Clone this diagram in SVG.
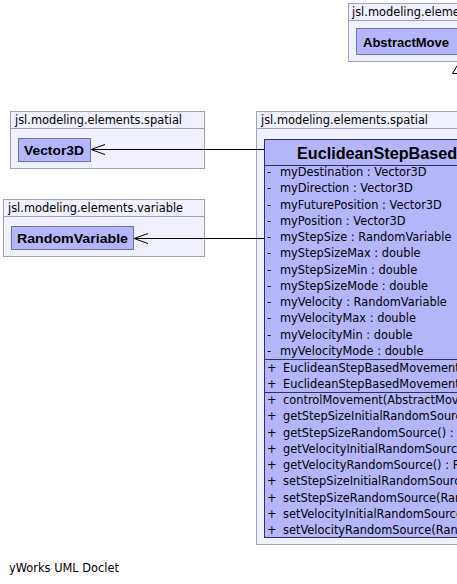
<svg xmlns="http://www.w3.org/2000/svg" width="457" height="584" viewBox="0 0 457 584">
<style>
.pkg{fill:#f0f0fe;stroke:#a0a0b8;stroke-width:1}
.pl{stroke:#a0a0b8;stroke-width:1}
.pt{font-family:"DejaVu Sans",sans-serif;font-size:11.4px;fill:#000}
.cls{fill:#b5b5fa;stroke:#7070b0;stroke-width:1}
.big{fill:#b5b5fa;stroke:#303060;stroke-width:1}
.sep{stroke:#303060;stroke-width:1}
.cn{font-family:"Liberation Sans",sans-serif;font-weight:bold;font-size:13.7px;fill:#000}
.title{font-family:"Liberation Sans",sans-serif;font-weight:bold;font-size:16.2px;fill:#000}
.m{font-family:"DejaVu Sans",sans-serif;font-size:11.4px;fill:#000}
.edge{stroke:#000;stroke-width:1;fill:none}
</style>
<defs>
<marker id="open" markerWidth="16" markerHeight="12" refX="15" refY="6" orient="auto" markerUnits="userSpaceOnUse">
<path d="M1,1 L15,6 L1,11" fill="none" stroke="#000" stroke-width="1"/>
</marker>
</defs>
<rect x="0" y="0" width="457" height="584" fill="#fff"/>

<g id="pkg-abstract">
<rect class="pkg" x="348.5" y="3.5" width="120" height="58"/>
<line class="pl" x1="348.5" y1="20.5" x2="468" y2="20.5"/>
<text class="pt" x="352" y="16">jsl.modeling.eleme</text>
<g id="AbstractMovementController">
<rect class="cls" x="356.5" y="28.5" width="120" height="26"/>
<text class="cn" x="363" y="46.5" textLength="86" lengthAdjust="spacingAndGlyphs">AbstractMove</text>
</g>
</g>

<g id="pkg-vector">
<rect class="pkg" x="10.5" y="111.5" width="194" height="57"/>
<line class="pl" x1="10.5" y1="128.5" x2="204.5" y2="128.5"/>
<text class="pt" x="15" y="124">jsl.modeling.elements.spatial</text>
<g id="Vector3D">
<rect class="cls" x="18.5" y="138.5" width="72" height="23"/>
<text class="cn" x="24" y="155" textLength="60" lengthAdjust="spacingAndGlyphs">Vector3D</text>
</g>
</g>

<g id="pkg-variable">
<rect class="pkg" x="3.5" y="199.5" width="201" height="57"/>
<line class="pl" x1="3.5" y1="216.5" x2="204.5" y2="216.5"/>
<text class="pt" x="8" y="212">jsl.modeling.elements.variable</text>
<g id="RandomVariable">
<rect class="cls" x="11.5" y="226.5" width="122" height="23"/>
<text class="cn" x="17" y="243" textLength="111" lengthAdjust="spacingAndGlyphs">RandomVariable</text>
</g>
</g>

<g id="pkg-spatial">
<rect class="pkg" x="256.5" y="111.5" width="220" height="433"/>
<line class="pl" x1="256.5" y1="128.5" x2="476" y2="128.5"/>
<text class="pt" x="261" y="124">jsl.modeling.elements.spatial</text>
<g id="EuclideanStepBasedMovementController">
<rect class="big" x="264.5" y="139.5" width="220" height="398"/>
<text class="title" x="297" y="158.5">EuclideanStepBased</text>
<line class="sep" x1="264.5" y1="165.5" x2="485" y2="165.5"/>
<text class="m"><tspan x="267" y="176">-</tspan><tspan x="280">myDestination : Vector3D</tspan></text>
<text class="m"><tspan x="267" y="192.25">-</tspan><tspan x="280">myDirection : Vector3D</tspan></text>
<text class="m"><tspan x="267" y="208.5">-</tspan><tspan x="280">myFuturePosition : Vector3D</tspan></text>
<text class="m"><tspan x="267" y="224.75">-</tspan><tspan x="280">myPosition : Vector3D</tspan></text>
<text class="m"><tspan x="267" y="241">-</tspan><tspan x="280">myStepSize : RandomVariable</tspan></text>
<text class="m"><tspan x="267" y="257.25">-</tspan><tspan x="280">myStepSizeMax : double</tspan></text>
<text class="m"><tspan x="267" y="273.5">-</tspan><tspan x="280">myStepSizeMin : double</tspan></text>
<text class="m"><tspan x="267" y="289.75">-</tspan><tspan x="280">myStepSizeMode : double</tspan></text>
<text class="m"><tspan x="267" y="306">-</tspan><tspan x="280">myVelocity : RandomVariable</tspan></text>
<text class="m"><tspan x="267" y="322.25">-</tspan><tspan x="280">myVelocityMax : double</tspan></text>
<text class="m"><tspan x="267" y="338.5">-</tspan><tspan x="280">myVelocityMin : double</tspan></text>
<text class="m"><tspan x="267" y="354.75">-</tspan><tspan x="280">myVelocityMode : double</tspan></text>
<line class="sep" x1="264.5" y1="359.5" x2="485" y2="359.5"/>
<text class="m"><tspan x="267" y="372">+</tspan><tspan x="283">EuclideanStepBasedMovement</tspan></text>
<text class="m"><tspan x="267" y="388.25">+</tspan><tspan x="283">EuclideanStepBasedMovement</tspan></text>
<line class="sep" x1="264.5" y1="392.5" x2="485" y2="392.5"/>
<text class="m"><tspan x="267" y="404">+</tspan><tspan x="283">controlMovement(AbstractMove</tspan></text>
<text class="m"><tspan x="267" y="420.25">+</tspan><tspan x="283">getStepSizeInitialRandomSource</tspan></text>
<text class="m"><tspan x="267" y="436.5">+</tspan><tspan x="283">getStepSizeRandomSource() : R</tspan></text>
<text class="m"><tspan x="267" y="452.75">+</tspan><tspan x="283">getVelocityInitialRandomSource</tspan></text>
<text class="m"><tspan x="267" y="469">+</tspan><tspan x="283">getVelocityRandomSource() : R</tspan></text>
<text class="m"><tspan x="267" y="485.25">+</tspan><tspan x="283">setStepSizeInitialRandomSource</tspan></text>
<text class="m"><tspan x="267" y="501.5">+</tspan><tspan x="283">setStepSizeRandomSource(Ran</tspan></text>
<text class="m"><tspan x="267" y="517.75">+</tspan><tspan x="283">setVelocityInitialRandomSource</tspan></text>
<text class="m"><tspan x="267" y="534">+</tspan><tspan x="283">setVelocityRandomSource(Rand</tspan></text>
</g>
</g>

<g id="connectors">
<line class="edge" x1="264" y1="149.5" x2="91" y2="149.5" marker-end="url(#open)"/>
<line class="edge" x1="264" y1="238.5" x2="134" y2="238.5" marker-end="url(#open)"/>
<polygon points="458.5,63.5 452.5,73.5 464.5,73.5" fill="#fff" stroke="#000" stroke-width="1"/>
<line class="edge" x1="458.5" y1="73.5" x2="458.5" y2="139"/>
</g>

<text class="pt" x="9" y="572">yWorks UML Doclet</text>
</svg>
